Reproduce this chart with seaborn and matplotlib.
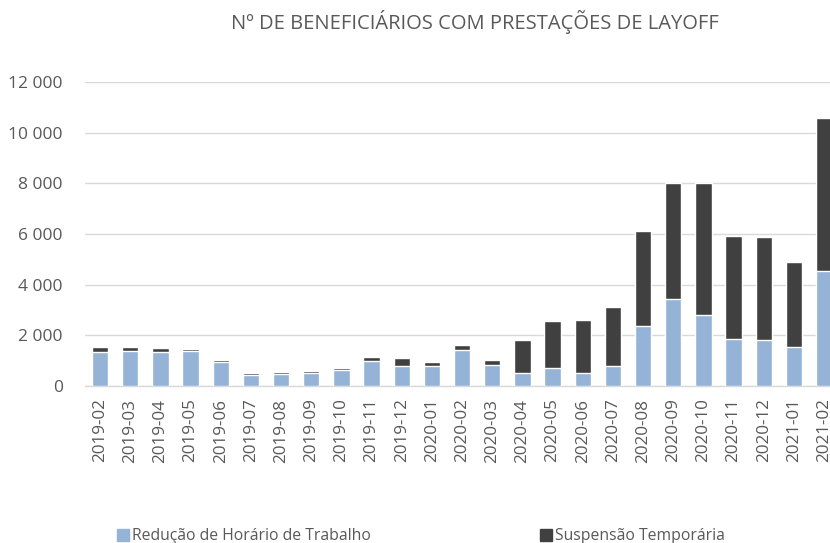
import matplotlib
matplotlib.use("Agg")
import matplotlib.pyplot as plt
import seaborn as sns
import pandas as pd
from matplotlib.patches import Patch
from matplotlib.ticker import FuncFormatter

# ── data ───────────────────────────────────────────────────────────────────
months = ["2019-02", "2019-03", "2019-04", "2019-05", "2019-06", "2019-07",
          "2019-08", "2019-09", "2019-10", "2019-11", "2019-12", "2020-01",
          "2020-02", "2020-03", "2020-04", "2020-05", "2020-06", "2020-07",
          "2020-08", "2020-09", "2020-10", "2020-11", "2020-12", "2021-01",
          "2021-02"]
reducao = [1360, 1400, 1360, 1380, 950, 450, 490, 530, 650, 1000, 790, 790,
           1440, 820, 500, 700, 500, 790, 2390, 3430, 2820, 1840, 1820, 1540,
           4540]
suspensao = [170, 130, 130, 80, 65, 50, 50, 50, 50, 130, 300, 145,
             180, 220, 1315, 1860, 2100, 2340, 3740, 4580, 5180, 4090, 4070,
             3350, 6030]

BLUE = "#95B3D7"
DARK = "#404040"
GRID = "#D9D9D9"
TXT = "#595959"

df = pd.DataFrame({"mes": months, "reducao": reducao, "suspensao": suspensao})
df["total"] = df["reducao"] + df["suspensao"]

sns.set_theme(style="white")
plt.rcParams["font.family"] = ["Open Sans", "DejaVu Sans"]

fig = plt.figure(figsize=(8.3, 5.43), dpi=100)
# right edge goes past the figure on purpose: last bar is cut in the original
ax = fig.add_axes([0.1024, 0.289, 0.9086, 0.56])

# stacked look: total in dark, lower part in blue over it
sns.barplot(data=df, x="mes", y="total", color=DARK, width=0.54,
            saturation=1, ax=ax, zorder=3)
sns.barplot(data=df, x="mes", y="reducao", color=BLUE, width=0.54,
            saturation=1, ax=ax, zorder=4)

ax.set_xlim(-0.5, len(months) - 0.5)
ax.set_ylim(0, 12000)
ax.set_yticks(range(0, 12001, 2000))
ax.yaxis.set_major_formatter(FuncFormatter(lambda v, p: f"{int(v):,}".replace(",", " ")))
ax.grid(axis="y", color=GRID, linewidth=1, zorder=0)
ax.set_axisbelow(True)
for s in ["top", "right", "left"]:
    ax.spines[s].set_visible(False)
ax.spines["bottom"].set_color(GRID)
ax.spines["bottom"].set_linewidth(1)
ax.set_xlabel("")
ax.set_ylabel("")
ax.tick_params(axis="x", rotation=90, labelsize=12.3, colors=TXT, length=0, pad=9)
ax.tick_params(axis="y", labelsize=12.5, colors=TXT, length=0, pad=16)

fig.text(0.572, 0.96, "Nº DE BENEFICIÁRIOS COM PRESTAÇÕES DE LAYOFF",
         ha="center", va="center", fontsize=14.5, color=TXT)

handles = [Patch(color=BLUE, label="Redução de Horário de Trabalho"),
           Patch(color=DARK, label="Suspensão Temporária")]
fig.legend(handles=handles, loc="center left", bbox_to_anchor=(0.124, 0.012),
           ncol=2, frameon=False, fontsize=11.3, handlelength=0.75,
           handleheight=0.75, handletextpad=0.2, columnspacing=10.8,
           labelcolor=TXT)

fig.savefig("out.png", dpi=100)
